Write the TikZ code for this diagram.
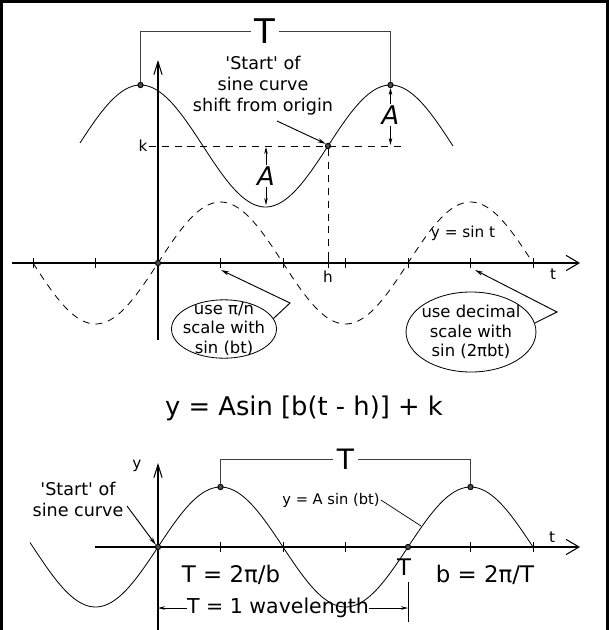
\documentclass[tikz,border=0pt]{standalone}
\usepackage{fontspec}
\setmainfont{DejaVu Sans}[Ligatures=TeXOff]
\usetikzlibrary{arrows.meta, positioning, shapes.geometric}
\tikzset{
    axisline/.style={line width=0.9pt, -{Straight Barb[length=11pt, width=13pt]}},
    yaxisline/.style={line width=0.9pt, -{Straight Barb[length=11pt, width=7pt]}},
    sinecurve/.style={line width=0.7pt, smooth, samples=150},
    guide/.style={line width=0.7pt, dash pattern=on 6pt off 5pt},
    tickmark/.style={line width=0.7pt},
    bracket/.style={line width=0.7pt, draw=black!75},
    dotmark/.style={circle, draw, line width=0.8pt, fill=black!70, inner sep=0pt, minimum size=4.5pt},
    pointer/.style={line width=0.8pt, -{Stealth[length=7pt, width=3.5pt]}},
    measure/.style={line width=0.6pt, -{Stealth[length=6pt, width=3pt]}},
    smalllab/.style={font=\fontsize{13}{15}\selectfont, inner sep=1pt},
    note/.style={align=center, font=\fontsize{15}{18}\selectfont, inner sep=1pt},
    bubble/.style={ellipse, draw, line width=0.7pt, align=center, font=\fontsize{14}{16.6}\selectfont},
    Alab/.style={font=\fontsize{22}{24}\selectfont\itshape, inner sep=1pt},
    bigT/.style={font=\fontsize{29}{30}\selectfont, inner sep=3pt},
    midT/.style={font=\fontsize{24}{26}\selectfont, inner sep=3pt},
    relation/.style={font=\fontsize{19.5}{22}\selectfont, inner sep=1pt},
    formula/.style={font=\fontsize{22}{26}\selectfont}
}

\begin{document}
\begin{tikzpicture}[x=0.03cm, y=-0.03cm]
    \useasboundingbox (0,0) rectangle (609,630);
    % frame
    \draw[line width=2.6pt] (1.3,632) -- (1.3,1.3) -- (607.4,1.3) -- (607.4,632);

    % upper graph: axes and ticks
    \coordinate (tL) at (12,263);
    \coordinate (tR) at (580,263);
    \coordinate (yB) at (158,340);
    \coordinate (yT) at (158,60);
    \draw[axisline] (tL) -- (tR);
    \draw[yaxisline] (yB) -- (yT);
    \foreach \x in {33,95.5,220.5,283,328,345.5,408,470.5,533}
        \draw[tickmark] (\x,258) -- (\x,268);
    \node[smalllab] (tlab) at (553,274) {t};
    \node[smalllab] (hlab) at (328,277) {h};

    % y = sin t and the shifted curve
    \draw[guide, sinecurve] plot[domain=33:533] (\x,{263-61*sin((\x-158)*1.44)});
    \draw[sinecurve] plot[domain=80:453] (\x,{146-61*sin((\x-328)*1.44)});
    \node[smalllab] (sinlab) at (463,233) {y = sin t};

    \node[dotmark] (orig) at (158,263) {};
    \node[dotmark] (start) at (328,146) {};
    \node[dotmark] (peakL) at (140.5,85) {};
    \node[dotmark] (peakR) at (390.5,85) {};

    % k and h guides
    \node[smalllab] (klab) at (143,146) {k};
    \coordinate (kend) at (405,146);
    \coordinate (hfoot) at (328,263);
    \draw[guide] (klab.east) -- (kend);
    \draw[guide] (start) -- (hfoot);

    % period bracket
    \node[bigT] (Ttop) at (265,31) {T};
    \draw[bracket] (peakL.north) |- (Ttop.west);
    \draw[bracket] (Ttop.east) -| (peakR.north);

    % amplitudes
    \node[Alab] (Aleft) at (266,176) {A};
    \coordinate (AleftT) at (266,147);
    \coordinate (AleftB) at (266,205);
    \draw[measure] (Aleft) -- (AleftT);
    \draw[measure] (Aleft) -- (AleftB);
    \node[Alab] (Aright) at (390.5,115) {A};
    \coordinate (ArightT) at (390.5,88);
    \coordinate (ArightB) at (390.5,145);
    \draw[measure] (Aright) -- (ArightT);
    \draw[measure] (Aright) -- (ArightB);

    \node[note] (shiftnote) at (263,86) {'Start' of\\sine curve\\shift from origin};
    \coordinate (shiftfoot) at (277,121);
    \draw[pointer] (shiftfoot) -- (start.north west);

    % scale callouts
    \node[bubble, inner xsep=-3.5pt, inner ysep=-5pt, minimum width=3.15cm] (piscale) at (224,329) {use π/n\\scale with\\sin (bt)};
    \coordinate (knee1) at (290,303);
    \coordinate (tick1) at (221,270);
    \draw[pointer] (piscale.12) -- (knee1) -- (tick1);

    \node[bubble, inner xsep=-3pt, inner ysep=0pt, minimum width=3.84cm, minimum height=2.4cm] (decscale) at (471,332) {use decimal\\scale with\\sin (2πbt)};
    \coordinate (knee2) at (557,312);
    \coordinate (tick2) at (475,270);
    \draw[pointer] (decscale.8) -- (knee2) -- (tick2);

    \node[formula] (eqn) at (304,408) {y = Asin [b(t - h)] + k};

    % lower graph
    \coordinate (bL) at (95,547);
    \coordinate (bR) at (580,547);
    \coordinate (byB) at (158,632);
    \coordinate (byT) at (158,463);
    \draw[axisline] (bL) -- (bR);
    \draw[yaxisline] (byB) -- (byT);
    \foreach \x in {220.5,283,345.5,470.5,533}
        \draw[tickmark] (\x,542) -- (\x,552);
    \node[smalllab] (ylab) at (137,466) {y};
    \node[smalllab] (tlab2) at (552,537) {t};

    \draw[sinecurve] plot[domain=30:533] (\x,{547-60*sin((\x-158)*1.44)});

    \node[dotmark] (borig) at (158,547) {};
    \node[dotmark] (bend) at (408,547) {};
    \node[dotmark] (bpeakL) at (220.5,487) {};
    \node[dotmark] (bpeakR) at (470.5,487) {};

    \node[midT] (Tbot) at (345.5,459) {T};
    \draw[bracket] (bpeakL.north) |- (Tbot.west);
    \draw[bracket] (Tbot.east) -| (bpeakR.north);

    \node[note] (startnote) at (78,499) {'Start' of\\sine curve};
    \coordinate (startfoot) at (127,506);
    \draw[pointer] (startfoot) -- (borig.north west);

    \node[smalllab, font=\fontsize{12.5}{14}\selectfont] (ampnote) at (331,500) {y = A sin (bt)};
    \coordinate (onwave) at (421,526);
    \draw[line width=0.6pt] (ampnote.east) -- (onwave);

    \node[relation] (Tform) at (231,575) {T = 2π/b};
    \node[relation] (bform) at (485,575) {b = 2π/T};
    \node[relation] (Tmark) at (404,567) {T};

    % one wavelength
    \node[relation, font=\fontsize{17.5}{20}\selectfont, inner sep=0pt] (wavelen) at (278,608) {T = 1 wavelength};
    \coordinate (wlL) at (158,608);
    \coordinate (wlR) at (408,608);
    \coordinate (wlTop) at (408,582);
    \coordinate (wlBot) at (408,622);
    \draw[line width=0.6pt] (wlTop) -- (wlBot);
    \draw[measure] (wavelen.west) -- (wlL);
    \draw[measure] (wavelen.east) -- (wlR);
\end{tikzpicture}
\end{document}
